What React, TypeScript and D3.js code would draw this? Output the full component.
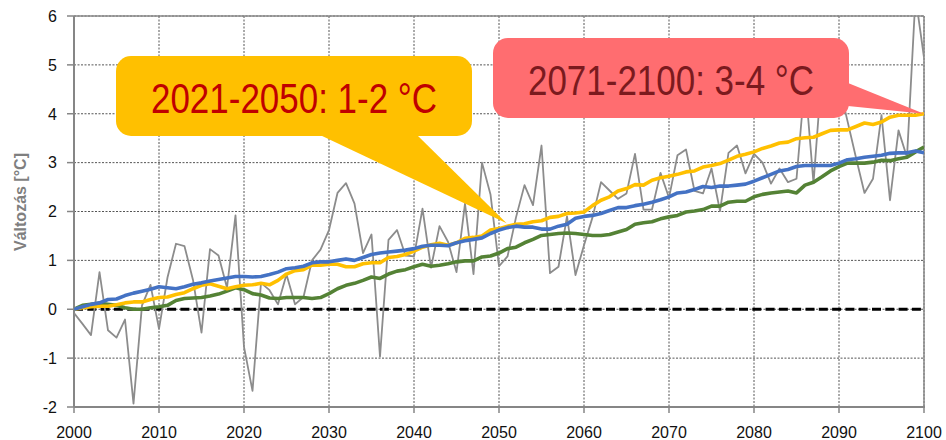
import React from "react";
import * as d3 from "d3";

const years: number[] = d3.range(2000, 2101);

const annual: number[] = [
  -0.08, -0.3, -0.53, 0.76, -0.43, -0.58, -0.21, -1.93, 0.08, 0.5,
  -0.4, 0.65, 1.34, 1.29, 0.6, -0.48, 1.23, 1.1, 0.44, 1.92,
  -0.77, -1.67, 0.54, 0.39, 0.1, 0.71, 0.1, 0.25, 1.0, 1.22,
  1.62, 2.38, 2.58, 2.16, 1.15, 1.53, -0.97, 1.42, 1.62, 1.1,
  1.08, 2.06, 0.85, 1.7, 1.38, 0.76, 2.16, 0.72, 3.0, 2.35,
  0.88, 1.08, 1.88, 2.54, 2.13, 3.35, 0.74, 0.87, 1.9, 0.7,
  1.31, 1.88, 2.6, 2.43, 2.26, 2.37, 3.18, 2.04, 2.04, 2.79,
  2.28, 3.15, 3.27, 2.42, 2.37, 2.88, 2.01, 3.2, 3.35, 2.78,
  3.18, 3.0, 2.57, 2.88, 2.6, 2.67, 4.7, 2.58, 4.9, 4.3,
  4.6, 3.85, 3.1, 2.38, 2.67, 3.97, 2.23, 3.66, 3.11, 6.4,
  5.15,
];

const blueSeries: number[] = [
  0, 0.05, 0.1, 0.13, 0.2, 0.21, 0.28, 0.33, 0.37, 0.41,
  0.46, 0.44, 0.42, 0.46, 0.51, 0.54, 0.58, 0.61, 0.64, 0.67,
  0.67, 0.66, 0.67, 0.71, 0.76, 0.83, 0.85, 0.88, 0.95, 0.97,
  0.97, 1.0, 1.03, 1.0, 1.06, 1.12, 1.15, 1.17, 1.19, 1.21,
  1.24, 1.29, 1.31, 1.31, 1.3, 1.36, 1.4, 1.43, 1.46, 1.55,
  1.62, 1.67, 1.7, 1.68, 1.68, 1.64, 1.64, 1.7, 1.74, 1.86,
  1.9, 1.92, 1.96, 2.02, 2.08, 2.08, 2.12, 2.15, 2.19, 2.24,
  2.3, 2.38, 2.4, 2.45, 2.51, 2.49, 2.52, 2.52, 2.54, 2.56,
  2.62, 2.69, 2.76, 2.83, 2.86, 2.92, 2.94, 2.94, 2.94, 2.94,
  2.99, 3.06, 3.08, 3.11, 3.13, 3.15, 3.19, 3.2, 3.2, 3.24,
  3.2,
];

const yellowSeries: number[] = [
  0, 0.03, 0.05, 0.06, 0.06, 0.09, 0.13, 0.15, 0.15, 0.2,
  0.24, 0.25, 0.3, 0.34, 0.42, 0.49, 0.52, 0.47, 0.42, 0.46,
  0.49, 0.5, 0.53, 0.5, 0.59, 0.72, 0.79, 0.81, 0.9, 0.9,
  0.92, 0.92, 0.87, 0.87, 0.93, 0.95, 0.95, 1.06, 1.08, 1.12,
  1.19, 1.27, 1.32, 1.35, 1.31, 1.36, 1.45, 1.47, 1.5, 1.62,
  1.65, 1.7, 1.74, 1.75, 1.79, 1.81, 1.88, 1.9, 1.96, 1.97,
  1.99, 2.12, 2.23, 2.3, 2.42, 2.47, 2.55, 2.54, 2.64, 2.69,
  2.72, 2.76, 2.81, 2.83, 2.91, 2.94, 2.98, 3.05, 3.13, 3.17,
  3.22, 3.29, 3.34, 3.4, 3.42, 3.49, 3.51, 3.52, 3.59, 3.66,
  3.67, 3.67, 3.74, 3.81, 3.78, 3.83, 3.93, 3.97, 3.97, 3.97,
  4.0,
];

const greenSeries: number[] = [
  0, 0.08, 0.1, 0.12, 0.1, 0.08, 0.03, 0.0, 0.0, 0.03,
  0.05, 0.08, 0.18, 0.22, 0.23, 0.24, 0.27, 0.31, 0.37, 0.44,
  0.4, 0.32, 0.29, 0.23, 0.22, 0.24, 0.24, 0.24, 0.22, 0.24,
  0.32, 0.42, 0.49, 0.53, 0.59, 0.66, 0.63, 0.72, 0.78, 0.81,
  0.87, 0.92, 0.88, 0.9, 0.93, 0.97, 0.99, 0.99, 1.07, 1.09,
  1.15, 1.24, 1.27, 1.36, 1.43, 1.51, 1.53, 1.55, 1.56, 1.55,
  1.53, 1.51, 1.51, 1.53, 1.58, 1.63, 1.74, 1.77, 1.79, 1.85,
  1.89, 1.92, 1.99, 2.01, 2.04, 2.11, 2.11, 2.19, 2.21, 2.21,
  2.3, 2.35, 2.38, 2.4, 2.42, 2.38, 2.54, 2.6, 2.71, 2.83,
  2.92, 2.99, 2.99, 2.99, 3.01, 3.05, 3.04, 3.08, 3.11, 3.22,
  3.32,
];

const xTicks: number[] = [2000, 2010, 2020, 2030, 2040, 2050, 2060, 2070, 2080, 2090, 2100];
const yTicks: number[] = [-2, -1, 0, 1, 2, 3, 4, 5, 6];
const yTitle = "Változás [°C]";
const callout1 = "2021-2050: 1-2 °C";
const callout2 = "2071-2100: 3-4 °C";

export default function App() {
  const W = 946;
  const H = 440;
  const left = 74, right = 924, top = 16, bottom = 407;
  const x = d3.scaleLinear().domain([2000, 2100]).range([left, right]);
  const y = d3.scaleLinear().domain([-2, 6]).range([bottom, top]);
  const line = d3
    .line<number>()
    .x((_, i) => x(years[i]))
    .y((d) => y(d));

  const zero = years.map(() => 0);
  const narrow = "'Liberation Sans Narrow', 'Arial Narrow', 'Liberation Sans', Arial, sans-serif";
  const font = "'Liberation Sans', Arial, sans-serif";

  // callout geometry
  const c1 = { x0: 116, x1: 472, y0: 56, y1: 136 };
  const c2 = { x0: 493, x1: 849, y0: 38, y1: 118 };
  const tip1: [number, number] = [x(2050.9), y(1.76)];
  const tip2: [number, number] = [x(2100), y(4.0)];

  return (
    <svg
      width={W}
      height={H}
      style={{ position: "absolute", left: 0, top: 0, background: "#fff" }}
      fontFamily={font}
    >
      <defs>
        <clipPath id="plotClip">
          <rect x={left} y={top} width={right - left} height={bottom - top} />
        </clipPath>
      </defs>
      <rect x={0} y={0} width={W} height={H} fill="#fff" />
      {/* gridlines */}
      {yTicks.map((t) => (
        <line key={"gy" + t} x1={left} x2={right} y1={y(t)} y2={y(t)} stroke="#555" strokeWidth={1} strokeDasharray="2,1.5" />
      ))}
      {xTicks.map((t) => (
        <line key={"gx" + t} x1={x(t)} x2={x(t)} y1={top} y2={bottom} stroke="#555" strokeWidth={1} strokeDasharray="2,1.5" />
      ))}
      {/* frame */}
      <line x1={left} x2={right} y1={top} y2={top} stroke="#8a8a8a" strokeWidth={1.5} />
      <line x1={right} x2={right} y1={top} y2={bottom} stroke="#8a8a8a" strokeWidth={1.5} />
      {/* axes */}
      <line x1={left} x2={left} y1={top} y2={bottom} stroke="#868686" strokeWidth={2} />
      <line x1={left} x2={right + 1} y1={bottom} y2={bottom} stroke="#868686" strokeWidth={2} />
      {yTicks.map((t) => (
        <line key={"ty" + t} x1={left - 7} x2={left} y1={y(t)} y2={y(t)} stroke="#868686" strokeWidth={1.5} />
      ))}
      {xTicks.map((t) => (
        <line key={"tx" + t} x1={x(t)} x2={x(t)} y1={bottom} y2={bottom + 6} stroke="#868686" strokeWidth={1.5} />
      ))}
      {/* labels */}
      {yTicks.map((t) => (
        <text key={"ly" + t} x={57} y={y(t)} dy="0.36em" textAnchor="end" fontSize={16} fill="#111">
          {t}
        </text>
      ))}
      {xTicks.map((t) => (
        <text key={"lx" + t} x={x(t)} y={438} textAnchor="middle" fontSize={16} fill="#111">
          {t}
        </text>
      ))}
      <text
        transform={`translate(26,202) rotate(-90)`}
        textAnchor="middle"
        fontSize={16}
        fontWeight="bold"
        fill="#7f7f7f"
      >
        {yTitle}
      </text>

      <g clipPath="url(#plotClip)">
        <path d={line(zero) || ""} fill="none" stroke="#000" strokeWidth={3.2} strokeDasharray="9,4.3" />
        <path d={line(annual) || ""} fill="none" stroke="#8c8c8c" strokeWidth={1.8} strokeLinejoin="round" />
        <path d={line(greenSeries) || ""} fill="none" stroke="#548235" strokeWidth={3.6} strokeLinejoin="round" />
        <path d={line(yellowSeries) || ""} fill="none" stroke="#FFC000" strokeWidth={3.6} strokeLinejoin="round" />
        <path d={line(blueSeries) || ""} fill="none" stroke="#4472C4" strokeWidth={3.6} strokeLinejoin="round" />
      </g>

      {/* callout 1 */}
      <path d={`M${320},${c1.y1 - 1} L${tip1[0]},${tip1[1]} L${417},${c1.y1 - 1} Z`} fill="#FFC000" />
      <rect x={c1.x0} y={c1.y0} width={c1.x1 - c1.x0} height={c1.y1 - c1.y0} rx={15} ry={15} fill="#FFC000" />
      <text
        x={(c1.x0 + c1.x1) / 2}
        y={113}
        textAnchor="middle"
        fontFamily={narrow}
        fontSize={42}
        fill="#C00000"
        textLength={286}
        lengthAdjust="spacingAndGlyphs"
      >
        {callout1}
      </text>

      {/* callout 2 */}
      <path d={`M${c2.x1 - 1},${83} L${tip2[0]},${tip2[1]} L${c2.x1 - 1},${106} Z`} fill="#FF6D70" />
      <rect x={c2.x0} y={c2.y0} width={c2.x1 - c2.x0} height={c2.y1 - c2.y0} rx={15} ry={15} fill="#FF6D70" />
      <text
        x={(c2.x0 + c2.x1) / 2}
        y={95}
        textAnchor="middle"
        fontFamily={narrow}
        fontSize={42}
        fill="#7B1A1E"
        textLength={286}
        lengthAdjust="spacingAndGlyphs"
      >
        {callout2}
      </text>
    </svg>
  );
}
